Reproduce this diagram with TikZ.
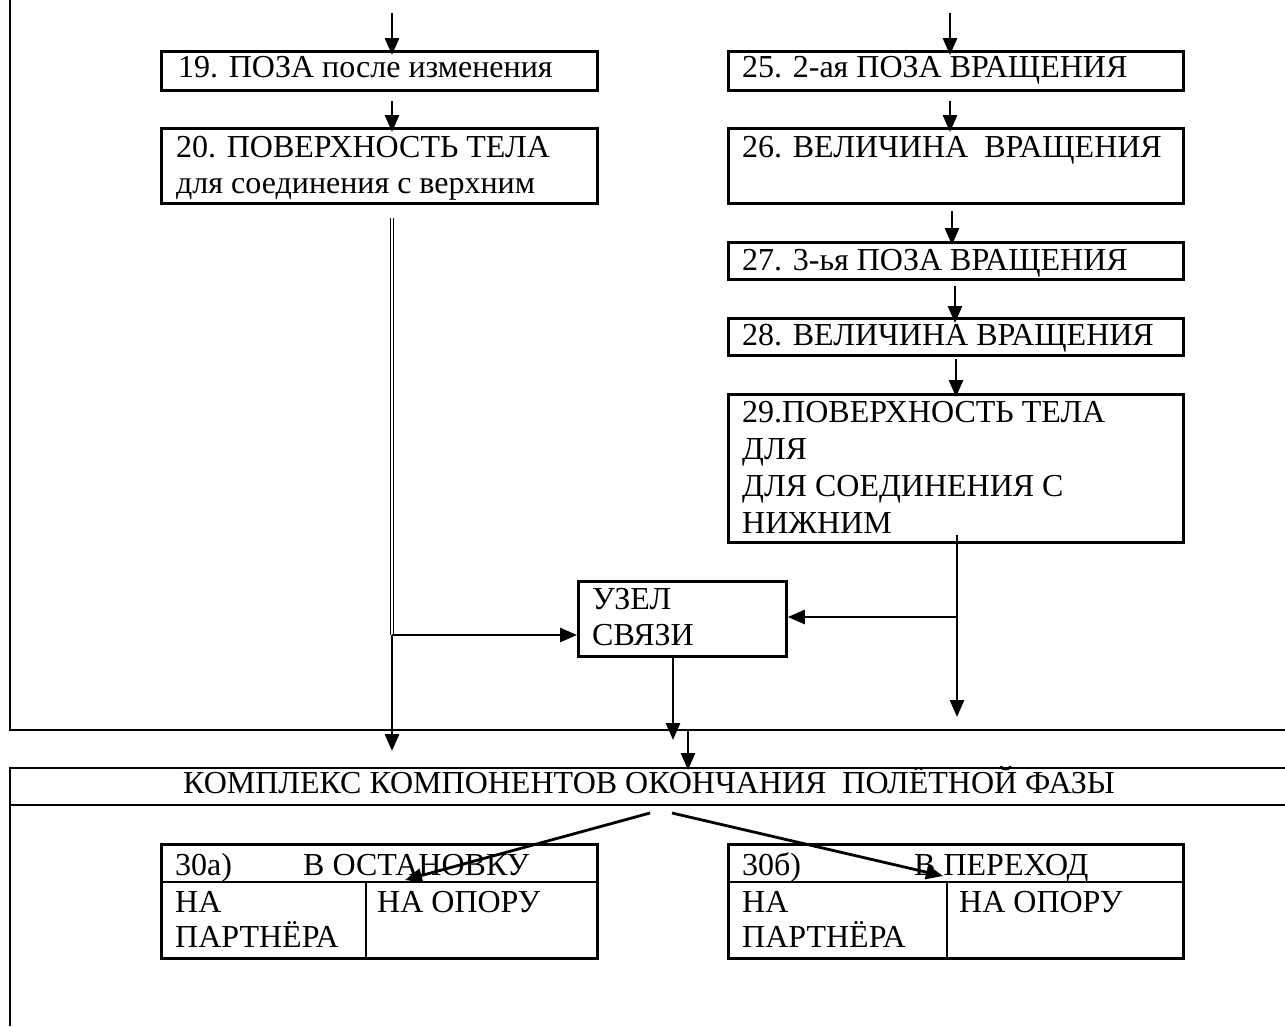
\documentclass[tikz,border=0pt]{standalone}
\usepackage{fontspec}
\setmainfont{Liberation Serif}
\usetikzlibrary{arrows.meta,positioning}

\begin{document}
\begin{tikzpicture}[x=1pt,y=-1pt,
    font=\fontsize{32}{37}\selectfont,
    box/.style={draw,line width=2.8pt,anchor=north west,inner sep=0pt},
    bl/.style={line width=2.8pt},
    lbl/.style={anchor=base west,inner sep=0pt,align=left},
    ln/.style={line width=2.8pt},
    arr/.style={ln,-{Triangle[length=17pt,width=14pt]}}]
  \useasboundingbox (0,0) rectangle (1285,1026);
  \draw[ln] (10,0) -- (10,730) -- (1285,730);
  \draw[ln] (1285,768) -- (10,768) -- (10,1026);
  \draw[ln] (10,805) -- (1285,805);
  \node[box,minimum width=436pt,minimum height=39pt] (b19) at (160,50) {};
  \node[box,minimum width=436pt,minimum height=75pt] (b20) at (160,127) {};
  \node[box,minimum width=455pt,minimum height=39pt] (b25) at (727,50) {};
  \node[box,minimum width=455pt,minimum height=75pt] (b26) at (727,127) {};
  \node[box,minimum width=455pt,minimum height=37pt] (b27) at (727,241) {};
  \node[box,minimum width=455pt,minimum height=37pt] (b28) at (727,317) {};
  \node[box,minimum width=455pt,minimum height=148pt] (b29) at (727,393) {};
  \node[box,minimum width=208pt,minimum height=75pt] (uzel) at (577,580) {};
  \node[box,minimum width=436pt,minimum height=114pt] (b30a) at (160,843) {};
  \node[box,minimum width=455pt,minimum height=114pt] (b30b) at (727,843) {};
  \draw[bl] ([yshift=-39pt]b30a.north west) -- ([yshift=-39pt]b30a.north east);
  \draw[bl] ([xshift=206pt,yshift=-39pt]b30a.north west) -- ([xshift=206pt]b30a.south west);
  \draw[bl] ([yshift=-39pt]b30b.north west) -- ([yshift=-39pt]b30b.north east);
  \draw[bl] ([xshift=220pt,yshift=-39pt]b30b.north west) -- ([xshift=220pt]b30b.south west);
  \node[lbl] (t19) at (178,77) {19. ПОЗА после изменения};
  \node[lbl] (t20) at (176,193) {20. ПОВЕРХНОСТЬ ТЕЛА\\[-1pt]для соединения с верхним};
  \node[lbl] (t25) at (742,77) {25. 2-ая ПОЗА ВРАЩЕНИЯ};
  \node[lbl] (t26) at (742,157) {26. ВЕЛИЧИНА\ \ ВРАЩЕНИЯ};
  \node[lbl] (t27) at (742,270) {27. 3-ья ПОЗА ВРАЩЕНИЯ};
  \node[lbl] (t28) at (742,345) {28. ВЕЛИЧИНА ВРАЩЕНИЯ};
  \node[lbl] (t29) at (742,533) {29.ПОВЕРХНОСТЬ ТЕЛА\\ДЛЯ\\ДЛЯ СОЕДИНЕНИЯ С\\НИЖНИМ};
  \node[lbl] (tuzel) at (592,645) {УЗЕЛ\\[-1pt]СВЯЗИ};
  \node[lbl] (hdr) at (183,793) {КОМПЛЕКС КОМПОНЕНТОВ ОКОНЧАНИЯ\ \ ПОЛЁТНОЙ ФАЗЫ};
  \node[lbl] (n30a) at (175,875) {30а)};
  \node[lbl] (k30a) at (303,875) {В ОСТАНОВКУ};
  \node[lbl] (p30a) at (175,947) {НА\\[-2pt]ПАРТНЁРА};
  \node[lbl] (o30a) at (377,912) {НА ОПОРУ};
  \node[lbl] (n30b) at (742,875) {30б)};
  \node[lbl] (k30b) at (914,875) {В ПЕРЕХОД};
  \node[lbl] (p30b) at (742,947) {НА\\[-2pt]ПАРТНЁРА};
  \node[lbl] (o30b) at (959,912) {НА ОПОРУ};
  \coordinate (inL) at (392,13);
  \coordinate (inR) at (950,13);
  \coordinate (jL) at (392,635);
  \coordinate (jR) at (957,617);
  \coordinate (outL) at (392,751);
  \coordinate (outR) at (957,717);
  \coordinate (outU) at (673,740);
  \coordinate (inC) at (688,730);
  \coordinate (hdrTop) at (688,770);
  \coordinate (fork1) at (650,813);
  \coordinate (fork2) at (672,813);
  \coordinate (tipA) at (405,880);
  \coordinate (tipB) at (943,876);
  \draw[arr,shorten >=-5pt] (inL) -- (inL |- b19.north);
  \draw[arr,shorten <=9pt,shorten >=-5pt] (b19.south -| inL) -- (b20.north -| inL);
  \draw[arr,shorten >=-5pt] (inR) -- (inR |- b25.north);
  \draw[arr,shorten <=9pt,shorten >=-5pt] (b25.south -| inR) -- (b26.north -| inR);
  \draw[arr,shorten <=6pt,shorten >=-4pt] (b26.south -| 952,0) -- (b27.north -| 952,0);
  \draw[arr,shorten <=5pt,shorten >=-6pt] (b27.south -| 955,0) -- (b28.north -| 955,0);
  \draw[arr,shorten <=2pt,shorten >=-4pt] (b28.south -| 956,0) -- (b29.north -| 956,0);
  \draw[double,line width=1pt,double distance=1.6pt,shorten <=13pt] (b20.south -| jL) -- (jL);
  \draw[arr] (jL) -- (outL);
  \draw[arr] (jL) -- (jL -| uzel.west);
  \draw[ln,shorten <=-9pt] (b29.south -| jR) -- (jR);
  \draw[arr] (jR) -- (outR);
  \draw[arr] (jR) -- (jR -| uzel.east);
  \draw[arr] (uzel.south -| outU) -- (outU);
  \draw[arr] (inC) -- (hdrTop);
  \draw[arr] (fork1) -- (tipA);
  \draw[arr] (fork2) -- (tipB);
\end{tikzpicture}
\end{document}
